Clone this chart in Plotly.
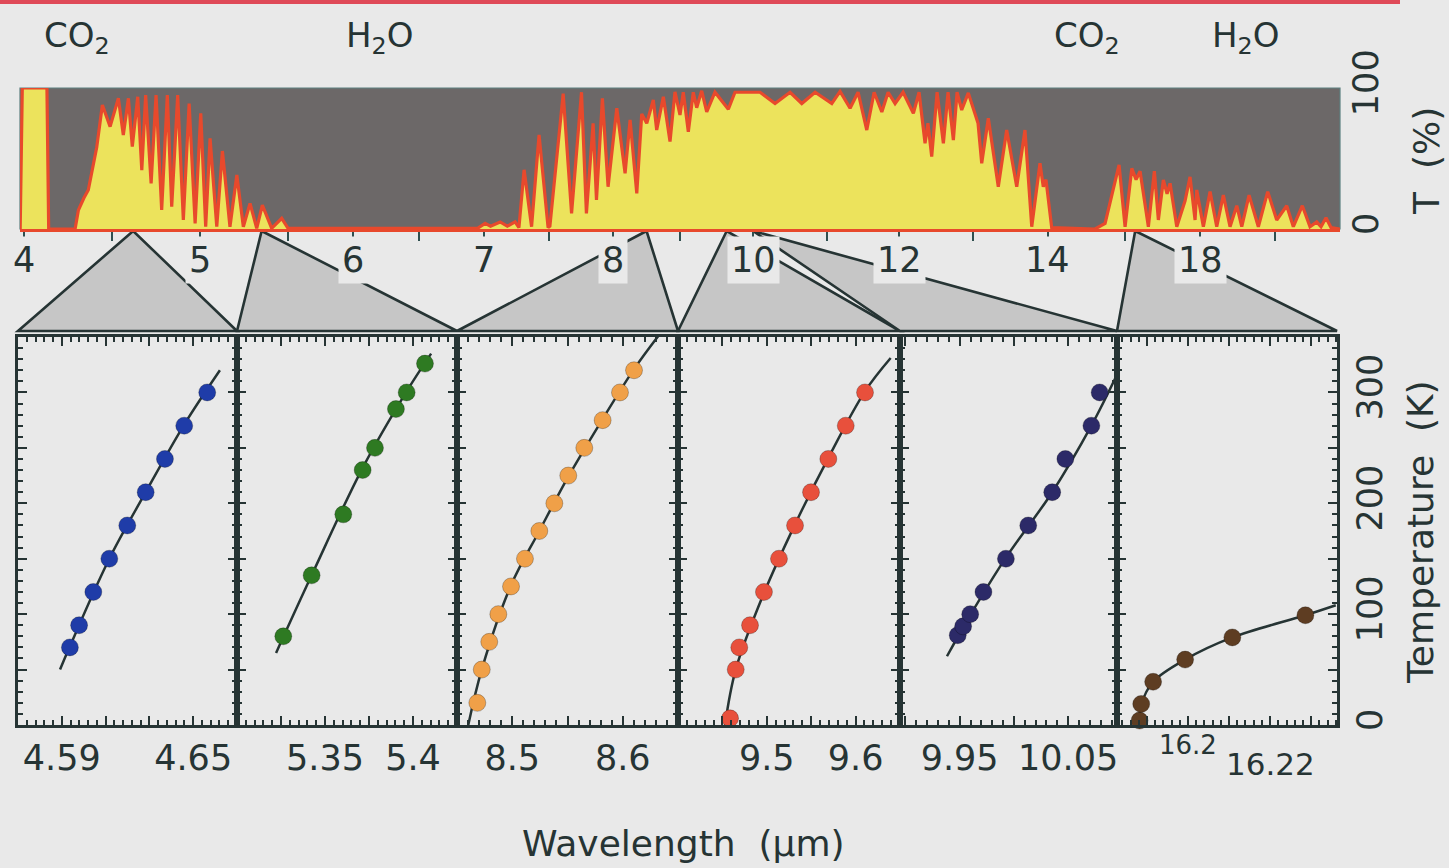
import numpy as np
import plotly.graph_objects as go

W, H = 1449, 868
FONT = "DejaVu Sans"
INK = "#263434"
PAPER = "#e9e9e9"

# ---------------- top panel: atmospheric transmission ----------------
# non-linear wavelength scale of the top axis (wavelength -> axis units)
AXIS_UM = [3.9, 4, 5, 5.5, 6, 7, 8, 9, 10, 11, 12, 13, 14, 16, 18, 20, 22]
AXIS_POS = [-0.1, 0, 1, 1.5, 1.869, 2.614, 3.347, 3.727, 4.142, 4.563,
            4.972, 5.392, 5.818, 6.256, 6.682, 7.108, 7.534]
TOP_RANGE_UM = [3.977, 21.733]
TOP_TICKS_UM = [4, 4.5, 5, 5.5, 6, 6.5, 7, 7.5, 8, 9, 10, 11, 12, 13, 14, 16, 18, 20]
TOP_LABELS_UM = [4, 5, 6, 7, 8, 10, 12, 14, 18]

SPEC_UM = [3.978, 3.99, 4.13, 4.14, 4.29, 4.309, 4.34, 4.365, 4.413, 4.445,
           4.489, 4.536, 4.564, 4.593, 4.615, 4.646, 4.669, 4.691, 4.722, 4.750,
           4.782, 4.814, 4.839, 4.873, 4.905, 4.938, 4.972, 5.004, 5.032, 5.057,
           5.095, 5.127, 5.170, 5.209, 5.246, 5.284, 5.322, 5.354, 5.407, 5.464,
           5.5, 6.95, 7.008, 7.05, 7.124, 7.18, 7.24, 7.27, 7.31, 7.368,
           7.426, 7.496, 7.51, 7.613, 7.678, 7.755, 7.793, 7.845, 7.871, 7.917,
           7.961, 8.055, 8.179, 8.254, 8.354, 8.428, 8.503, 8.601, 8.652, 8.751,
           8.851, 8.925, 9.0, 9.045, 9.114, 9.182, 9.229, 9.297, 9.366, 9.479,
           9.662, 9.753, 10.095, 10.297, 10.5, 10.658, 10.838, 11.065, 11.18, 11.319,
           11.43, 11.551, 11.653, 11.76, 11.847, 11.944, 12.054, 12.193, 12.27, 12.351,
           12.39, 12.441, 12.514, 12.599, 12.662, 12.734, 12.784, 12.847, 12.936, 13.067,
           13.116, 13.204, 13.337, 13.449, 13.583, 13.693, 13.783, 13.893, 13.937, 13.973,
           14.096, 15.221, 15.481, 15.696, 15.844, 16.0, 16.179, 16.293, 16.4, 16.621,
           16.781, 16.888, 17.021, 17.12, 17.2, 17.379, 17.6, 17.733, 17.867, 17.912,
           18.088, 18.267, 18.445, 18.621, 18.8, 18.979, 19.112, 19.307, 19.555, 19.805,
           20.045, 20.312, 20.488, 20.728, 20.933, 21.112, 21.227, 21.36, 21.493, 21.733]
SPEC_T = [0, 100, 100, 0, 0, 13.5, 22, 27.7, 58, 88,
          72.6, 92.7, 66.7, 92.7, 58.4, 93.8, 41.8, 95, 32.4, 95,
          13.5, 95, 15.8, 95, 6.4, 89, 4, 82, 1.6, 64.3,
          1.6, 55.3, 1.6, 38.3, 1.6, 18.2, 0.5, 17, 0.5, 7.6,
          0.5, 0.5, 4, 2, 5, 2, 5, 1, 42, 1.6,
          66.7, 1, 2, 96, 11, 97, 11, 75, 20.6, 92.7,
          30, 85.6, 39.5, 77.3, 25.3, 81.6, 75, 91.5, 70.2, 93.8,
          62, 97.3, 80.9, 97, 69, 97, 86, 98, 83, 97,
          85, 97, 97, 89, 97, 89, 97, 89, 97.6, 85.6,
          97, 70.2, 97, 83, 97, 89, 97, 82, 97, 60.8,
          75, 51.3, 97, 60.8, 97, 63, 97, 84.4, 96.5, 75,
          46.6, 78.5, 30, 70.2, 30, 70.2, 1.6, 46.6, 30, 35,
          1, 0, 4, 27.7, 45.4, 1.6, 43, 35, 41, 1.6,
          41, 6.4, 34.8, 25, 32.4, 1.6, 20, 37, 6.4, 27.7,
          1.6, 26.5, 1.6, 24, 1.6, 16.5, 1.6, 24, 1.6, 26.5,
          6.4, 16.5, 1.6, 16.5, 1.6, 5, 1.6, 8, 1, 0]

MOLECULES = ["CO<sub>2</sub>", "H<sub>2</sub>O", "CO<sub>2</sub>", "H<sub>2</sub>O"]
MOLECULE_UM = [4.3, 6.2, 15.0, 19.2]

# ---------------- lower panels: line position vs temperature ----------------
PANEL_RANGES = [[4.57, 4.67], [5.30, 5.425], [8.45, 8.65],
                [9.40, 9.65], [9.895, 10.095], [16.1827, 16.2363]]
ZOOM_MARK_UM = [4.62, 5.35, 8.50, 9.64, 10.0, 16.27]
PANEL_COLORS = ["#1f3ca8", "#2e7a22", "#f0a048", "#e8503c", "#2c2a68", "#5e3d22"]

PANEL_MAJOR = [[4.57, 4.59, 4.61, 4.63, 4.65, 4.67],
               [5.30, 5.325, 5.35, 5.375, 5.40, 5.425],
               [8.45, 8.50, 8.55, 8.60, 8.65],
               [9.40, 9.45, 9.50, 9.55, 9.60, 9.65],
               [9.90, 9.95, 10.0, 10.05],
               [16.19, 16.20, 16.21, 16.22, 16.23]]
PANEL_LABELS = [["", "4.59", "", "", "4.65", ""],
                ["", "", "5.35", "", "5.4", ""],
                ["", "8.5", "", "8.6", ""],
                ["", "", "9.5", "", "9.6", ""],
                ["", "9.95", "", "10.05"],
                [" ", " ", " ", " ", " "]]
PANEL_MINOR = [0.004, 0.005, 0.01, 0.01, 0.01, 0.002]

PTS_UM = [
    [4.5937, 4.5979, 4.6044, 4.6117, 4.6199, 4.6283, 4.6371, 4.6459, 4.6564],
    [5.3263, 5.3424, 5.3604, 5.3714, 5.3784, 5.3903, 5.3964, 5.4068],
    [8.4684, 8.4724, 8.4792, 8.4874, 8.4989, 8.5115, 8.5245, 8.5381, 8.5507,
     8.5652, 8.5818, 8.5975, 8.6102],
    [9.4586, 9.465, 9.469, 9.4811, 9.4968, 9.5137, 9.5318, 9.5498, 9.5693,
     9.5889, 9.6106],
    [9.9482, 9.9532, 9.9597, 9.9719, 9.9926, 10.0132, 10.0353, 10.0474,
     10.0714, 10.079],
    [16.1882, 16.1886, 16.1915, 16.1993, 16.2108, 16.2286],
]
PTS_K = [
    [70, 90, 120, 150, 180, 210, 240, 270, 300],
    [80, 135, 190, 230, 250, 285, 300, 326],
    [20, 50, 75, 100, 125, 150, 175, 200, 225, 250, 275, 300, 320],
    [6, 50, 70, 90, 120, 150, 180, 210, 240, 270, 300],
    [81, 89, 100, 120, 150, 180, 210, 240, 270, 300],
    [4, 19, 39, 59, 79, 99],
]
FIT_UM = [
    [4.5892, 4.5937, 4.6117, 4.6283, 4.6459, 4.6622],
    [5.3222, 5.3424, 5.3714, 5.3964, 5.4103],
    [8.4602, 8.4724, 8.4989, 8.5245, 8.5507, 8.5818, 8.6102, 8.633],
    [9.4529, 9.465, 9.4968, 9.5318, 9.5693, 9.6106, 9.6395],
    [9.9383, 9.9597, 9.9926, 10.0353, 10.0714, 10.0945],
    [16.1882, 16.1886, 16.1915, 16.1993, 16.2108, 16.2286, 16.2360],
]
FIT_K = [
    [50, 71, 150, 210, 271, 320],
    [65, 135, 232, 301, 335],
    [0, 50, 126, 175, 224, 276, 321, 352],
    [0, 50, 119, 181, 241, 301, 331],
    [62, 99, 151, 210, 270, 315],
    [0, 18, 39, 59, 79, 99, 108],
]
SIDE_LABELS = ["16.2", "16.22"]
SIDE_LABEL_UM = [16.2, 16.22]

# ---------------- geometry (pixels of the 1449x868 page) ----------------
TOP_X = (20, 1340)
TOP_Y = (88, 229)
EDGES = [18, 237, 457, 678, 900, 1117, 1337]
LOW_Y = (337, 725)
BASE_Y = 331


def top_pos(um):
    return np.interp(um, AXIS_UM, AXIS_POS)


def px(x):
    return x / W


def py(y):
    return 1 - y / H


top_range = top_pos(TOP_RANGE_UM)


def top_to_paper(um):
    u = top_pos(um)
    f = (u - top_range[0]) / (top_range[1] - top_range[0])
    return px(TOP_X[0] + f * (TOP_X[1] - TOP_X[0]))


fig = go.Figure()

fig.add_trace(go.Scatter(
    x=top_pos(SPEC_UM), y=SPEC_T, mode="lines", fill="tozeroy",
    fillcolor="#ece35c", line=dict(color="#e8492c", width=3.2),
    xaxis="x", yaxis="y", hoverinfo="skip", showlegend=False))

for i in range(6):
    ax = str(i + 2)
    fig.add_trace(go.Scatter(
        x=FIT_UM[i], y=FIT_K[i], mode="lines", line=dict(color=INK, width=2.5, shape="spline"),
        xaxis="x" + ax, yaxis="y" + ax, showlegend=False, hoverinfo="skip"))
    fig.add_trace(go.Scatter(
        x=PTS_UM[i], y=PTS_K[i], mode="markers",
        marker=dict(size=17, color=PANEL_COLORS[i], line=dict(width=1, color="rgba(0,0,0,0.25)")),
        xaxis="x" + ax, yaxis="y" + ax, showlegend=False, cliponaxis=False))

layout = dict(
    width=W, height=H, margin=dict(l=0, r=0, t=0, b=0, autoexpand=False),
    paper_bgcolor=PAPER, plot_bgcolor="rgba(0,0,0,0)",
    font=dict(family=FONT, size=35, color=INK),
    xaxis=dict(domain=[px(TOP_X[0]), px(TOP_X[1])], range=list(top_range), anchor="y",
               tickmode="array", tickvals=list(top_pos(TOP_TICKS_UM)),
               ticktext=[" "] * len(TOP_TICKS_UM), ticks="outside", ticklen=9,
               tickwidth=2, tickcolor="#2f4f4f", showline=True, linecolor="#e8492c",
               linewidth=2.5, showgrid=False, zeroline=False, automargin=False),
    yaxis=dict(domain=[py(TOP_Y[1]), py(TOP_Y[0])], range=[0, 100], anchor="x",
               side="right", tickmode="array", tickvals=[0, 100], ticktext=["0", "100"],
               tickangle=-90, ticks="", showline=False, showgrid=False, zeroline=False,
               tickfont=dict(size=35, color=INK), ticklabelstandoff=2, automargin=False),
)

for i in range(6):
    ax = str(i + 2)
    last = i == 5
    layout["xaxis" + ax] = dict(
        domain=[px(EDGES[i]), px(EDGES[i + 1])], range=PANEL_RANGES[i], anchor="y" + ax,
        tickmode="array", tickvals=PANEL_MAJOR[i], ticktext=PANEL_LABELS[i],
        ticks="inside", ticklen=9, tickwidth=2, tickcolor=INK,
        showline=True, linecolor=INK, linewidth=2.5, mirror="ticks",
        showgrid=False, zeroline=False, tickfont=dict(size=35, color=INK), automargin=False,
        minor=dict(dtick=PANEL_MINOR[i], tick0=PANEL_MAJOR[i][0], ticks="inside",
                   ticklen=5, tickwidth=1.5, tickcolor=INK, showgrid=False))
    layout["yaxis" + ax] = dict(
        domain=[py(LOW_Y[1]), py(LOW_Y[0])], range=[0, 350], anchor="x" + ax,
        side="right" if last else "left",
        tickmode="array", tickvals=[0, 50, 100, 150, 200, 250, 300, 350],
        ticktext=["0", " ", "100", " ", "200", " ", "300", " "] if last else [" "] * 8,
        showticklabels=last, tickangle=-90,
        ticks="inside", ticklen=9, tickwidth=2, tickcolor=INK,
        showline=True, linecolor=INK, linewidth=2.5, mirror="ticks",
        showgrid=False, zeroline=False, tickfont=dict(size=35, color=INK), automargin=False,
        minor=dict(dtick=10, tick0=0, ticks="inside", ticklen=5, tickwidth=1.5,
                   tickcolor=INK, showgrid=False))

fig.update_layout(**layout)

shapes = []
# red rule across the top of the page
shapes.append(dict(type="rect", xref="paper", yref="paper", x0=0, x1=px(1400),
                   y0=py(4), y1=1, fillcolor="#df4a58", line=dict(width=0)))
# dark background of the transmission panel
shapes.append(dict(type="rect", xref="paper", yref="paper", x0=px(TOP_X[0]), x1=px(TOP_X[1]),
                   y0=py(TOP_Y[1]), y1=py(TOP_Y[0]), fillcolor="#6c6868",
                   line=dict(color="#5d8080", width=1.2), layer="below"))
# zoom wedges linking the spectrum to each lower panel
for i in range(6):
    ax_ = top_to_paper(ZOOM_MARK_UM[i])
    path = "M {:.5f},{:.5f} L {:.5f},{:.5f} L {:.5f},{:.5f} Z".format(
        px(EDGES[i]), py(BASE_Y), ax_, py(TOP_Y[1] + 2), px(EDGES[i + 1]), py(BASE_Y))
    shapes.append(dict(type="path", xref="paper", yref="paper", path=path,
                       fillcolor="#c6c6c6", line=dict(color=INK, width=2.6), layer="below"))
fig.update_layout(shapes=shapes)

ann = []
for v in TOP_LABELS_UM:
    ann.append(dict(x=top_to_paper(v), y=py(260), xref="paper", yref="paper",
                    text=str(v), showarrow=False, font=dict(size=35, color=INK),
                    bgcolor=PAPER, borderpad=3, xanchor="center", yanchor="middle"))
for m, v in zip(MOLECULES, MOLECULE_UM):
    ann.append(dict(x=top_to_paper(v), y=py(38), xref="paper", yref="paper",
                    text=m, showarrow=False, font=dict(size=34, color=INK),
                    xanchor="center", yanchor="middle"))
ann.append(dict(x=SIDE_LABEL_UM[0], y=py(745), xref="x7", yref="paper", text=SIDE_LABELS[0],
                showarrow=False, font=dict(size=26, color=INK), xanchor="center", yanchor="middle"))
ann.append(dict(x=SIDE_LABEL_UM[1], y=py(764), xref="x7", yref="paper", text=SIDE_LABELS[1],
                showarrow=False, font=dict(size=31, color=INK), xanchor="center", yanchor="middle"))
ann.append(dict(x=px(683), y=py(843), xref="paper", yref="paper",
                text="Wavelength\u00a0 (\u00b5m)", showarrow=False,
                font=dict(size=36, color=INK), xanchor="center", yanchor="middle"))
ann.append(dict(x=px(1426), y=py(161), xref="paper", yref="paper", text="T\u00a0 (%)",
                textangle=-90, showarrow=False, font=dict(size=36, color=INK),
                xanchor="center", yanchor="middle"))
ann.append(dict(x=px(1420), y=py(532), xref="paper", yref="paper",
                text="Temperature\u00a0 (K)", textangle=-90, showarrow=False,
                font=dict(size=36, color=INK), xanchor="center", yanchor="middle"))
fig.update_layout(annotations=ann)

fig.write_html("out.html")
